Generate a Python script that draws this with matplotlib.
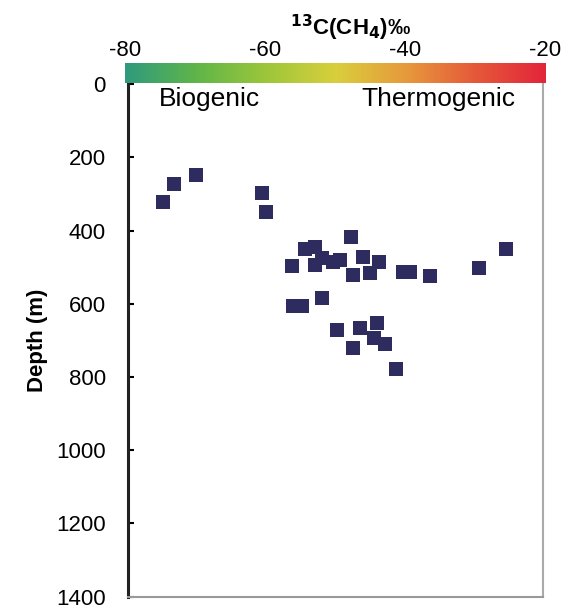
import numpy as np
import matplotlib.pyplot as plt
from matplotlib.colors import LinearSegmentedColormap

plt.rcParams['font.family'] = ['Liberation Sans', 'DejaVu Sans']
plt.rcParams['mathtext.default'] = 'bf'

# d13C of methane (permil) and sample depth (m)
d13c = [-74.9, -73.3, -70.2, -60.7, -60.1, -47.8, -25.3, -29.2,
        -49.3, -46.0, -43.7, -47.4, -45.0, -40.3, -39.2, -36.3,
        -49.8, -46.5, -44.0, -44.5, -42.8, -47.4, -41.2,
        -54.4, -53.0, -56.3, -53.0, -52.0, -50.3, -54.9, -56.1, -52.0]
depth = [322, 274, 249, 296, 349, 417, 449, 503,
         480, 471, 485, 521, 516, 512, 512, 525,
         671, 666, 652, 693, 711, 720, 779,
         449, 444, 498, 494, 476, 485, 607, 607, 584]

x_ticks = [-80, -60, -40, -20]
y_ticks = [0, 200, 400, 600, 800, 1000, 1200, 1400]

cmap = LinearSegmentedColormap.from_list(
    'd13c', ['#2f9a7e', '#5fb54a', '#9cc63a', '#d9cf3c', '#e79a3c', '#e5593a', '#e3253a'])

fig = plt.figure(figsize=(5.62, 6.10), dpi=100)
ax = fig.add_axes([0.228, 0.022, 0.738, 0.840])
cax = fig.add_axes([0.222, 0.864, 0.748, 0.033])

ax.scatter(d13c, depth, marker='s', s=95, color='#2e2b5f', linewidths=0, zorder=3)
ax.set_xlim(-80, -20)
ax.set_ylim(1400, 0)
ax.set_yticks(y_ticks)
ax.set_xticks([])
ax.tick_params(axis='y', direction='in', length=4, width=1.5, labelsize=16, pad=16)
ax.set_ylabel('Depth (m)', fontsize=16, fontweight='bold', labelpad=6)
ax.spines['left'].set_linewidth(2.2)
ax.spines['left'].set_color('#222222')
ax.spines['bottom'].set_color('#999999')
ax.spines['bottom'].set_linewidth(1.5)
ax.spines['right'].set_color('#aaaaaa')
ax.spines['right'].set_linewidth(1.5)
ax.spines['top'].set_visible(False)

ax.text(-75.5, 8, 'Biogenic', fontsize=19, va='top', ha='left')
ax.text(-46.3, 8, 'Thermogenic', fontsize=19, va='top', ha='left')

grad = np.linspace(0, 1, 256).reshape(1, -1)
cax.imshow(grad, cmap=cmap, aspect='auto', extent=[-80, -20, 0, 1])
cax.set_xlim(-80, -20)
cax.set_yticks([])
cax.xaxis.tick_top()
cax.set_xticks(x_ticks)
cax.set_xticklabels([str(t) for t in x_ticks])
cax.tick_params(axis='x', length=0, labelsize=16, pad=1)
for s in cax.spines.values():
    s.set_visible(False)
fig.text(0.623, 0.955, '$^{13}$C(CH$_{4}$)‰', fontsize=16, fontweight='bold',
         ha='center', va='center')

fig.savefig('out.png', dpi=100)
